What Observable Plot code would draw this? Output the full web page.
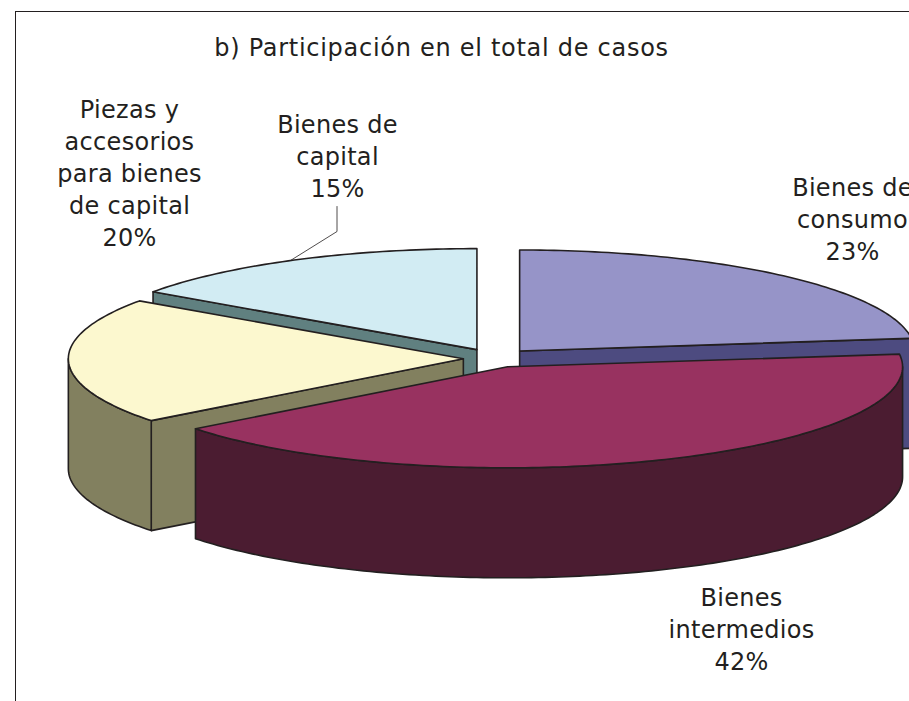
<!DOCTYPE html>
<html>
<head>
<meta charset="utf-8">
<script src="https://cdn.jsdelivr.net/npm/d3@7"></script>
<script src="https://cdn.jsdelivr.net/npm/@observablehq/plot@0.6"></script>
<style>
html,body{margin:0;padding:0;background:#fff;overflow:hidden}
svg{display:block}
</style>
</head>
<body>
<div id="chart"></div>
<script>
const chartTitle = "b) Participación en el total de casos";
const categories = ["Bienes de\nconsumo", "Bienes\nintermedios", "Piezas y\naccesorios\npara bienes\nde capital", "Bienes de\ncapital"];
const shares = [23.0, 41.5, 20.2, 15.3];
const explode = [1, 0.9, 0.82, 1];
const topColors = ["#9694C8", "#983260", "#FCF8CF", "#D2ECF3"];
const sideColors = ["#4D4B80", "#4B1C31", "#82805F", "#608080"];
const labelX = [852, 741, 129, 337];
const labelY = [217, 627, 171.5, 154];

const W = 909, H = 701;
const geo = {cx: 494, cy: 358, rx: 395, ry: 101, depth: 110, ex: 38, ey: 10};
const ink = "#231f20";
const toRad = d => d * Math.PI / 180;

let acc = 0;
const slices = shares.map((v, i) => {
  const a0 = acc * 3.6; acc += v; const a1 = acc * 3.6;
  const mid = toRad((a0 + a1) / 2);
  const ax = geo.cx + explode[i] * geo.ex * Math.sin(mid);
  const ay = geo.cy - explode[i] * geo.ey * Math.cos(mid);
  return {i, a0, a1, ax, ay};
});
const rim = (s, deg, dz = 0) => ({
  x: s.ax + geo.rx * Math.sin(toRad(deg)),
  y: s.ay - geo.ry * Math.cos(toRad(deg)) + dz
});
const arc = (s, from, to, dz = 0) => {
  const pts = [];
  const n = Math.max(2, Math.ceil(Math.abs(to - from)));
  for (let k = 0; k <= n; k++) pts.push(rim(s, from + (to - from) * k / n, dz));
  return pts;
};
const apex = (s, dz = 0) => ({x: s.ax, y: s.ay + dz});
const topFace = s => [apex(s), ...arc(s, s.a0, s.a1)];
const radialSide = (s, deg) => {
  const e = rim(s, deg), f = rim(s, deg, geo.depth);
  return [apex(s), e, f, apex(s, geo.depth)];
};
const rimSide = (s, from, to) => [...arc(s, from, to), ...arc(s, to, from, geo.depth)];

const [consumo, intermedios, piezas, capital] = slices;
const poly = (pts, fill) => Plot.line(pts, {x: "x", y: "y", curve: "linear-closed", fill, stroke: ink, strokeWidth: 1.6, strokeLinejoin: "round"});

const chart = Plot.plot({
  width: W, height: H, margin: 0,
  x: {axis: null, domain: [0, W], range: [0, W]},
  y: {axis: null, domain: [0, H], range: [0, H]},
  marks: [
    Plot.ruleX([15], {y1: 11, y2: H, stroke: ink, strokeWidth: 1}),
    Plot.ruleY([11], {x1: 15, x2: W, stroke: ink, strokeWidth: 1}),
    poly(radialSide(capital, capital.a0), sideColors[3]),
    poly(topFace(capital), topColors[3]),
    poly(radialSide(consumo, consumo.a1), sideColors[0]),
    poly(topFace(consumo), topColors[0]),
    poly(radialSide(piezas, piezas.a0), sideColors[2]),
    poly(rimSide(piezas, piezas.a0, 270), sideColors[2]),
    poly(topFace(piezas), topColors[2]),
    poly(rimSide(intermedios, 90, intermedios.a1), sideColors[1]),
    poly(topFace(intermedios), topColors[1]),
    Plot.line([{x: 336.5, y: 206}, {x: 336.5, y: 231}, {x: 290, y: 260}], {x: "x", y: "y", stroke: ink, strokeWidth: 0.8}),
    Plot.text(shares.map((v, i) => ({text: `${categories[i]}\n${Math.round(v)}%`, x: labelX[i], y: labelY[i]})), {
      x: "x", y: "y", text: "text", fontSize: 24, lineHeight: 1.335, fill: ink, fontFamily: "DejaVu Sans", lineAnchor: "middle"
    }),
    Plot.text([chartTitle], {x: 441, y: 48, text: d => d, fontSize: 24, fill: ink, fontFamily: "DejaVu Sans"})
  ]
});
d3.select(chart).selectAll("text")
  .style("letter-spacing", function () { return this.textContent === chartTitle ? "0.72px" : "0.3px"; });
document.getElementById("chart").appendChild(chart);
</script>
</body>
</html>
